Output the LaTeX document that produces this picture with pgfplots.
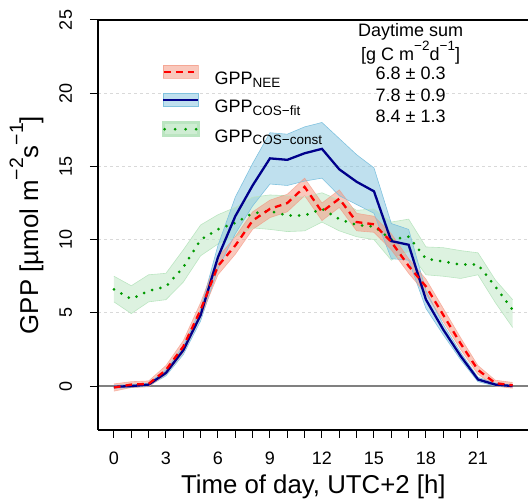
\documentclass[border=0pt]{standalone}
\usepackage{fontspec}
\setmainfont{Liberation Sans}
\usepackage{pgfplots}
\usepackage{pgfplotstable}
\pgfplotsset{compat=1.18}
\usepgfplotslibrary{fillbetween}

\definecolor{neeline}{HTML}{FF0000}
\definecolor{neefill}{HTML}{F3917A}
\definecolor{fitline}{HTML}{00008B}
\definecolor{fitfill}{HTML}{80C2DE}
\definecolor{constline}{HTML}{009A00}
\definecolor{constfill}{HTML}{BBE5C1}

% subscripts / superscripts in the R plotmath manner
\newcommand{\sub}[1]{\raisebox{-2.5pt}{\fontsize{13.5}{14}\selectfont #1}}
\newcommand{\supL}[1]{\raisebox{15pt}{\fontsize{19.4}{20}\selectfont #1}}
\newcommand{\supS}[1]{\raisebox{10pt}{\fontsize{13.5}{14}\selectfont #1}}

% hour, mean, lower, upper
\pgfplotstableread{
h m lo hi
0 -0.10 -0.35 0.15
1 0.10 -0.10 0.30
2 0.15 -0.05 0.35
3 1.10 0.80 1.40
4 2.70 2.30 3.10
5 5.20 4.70 5.70
6 8.20 7.60 8.80
7 9.60 9.00 10.20
8 11.30 10.70 11.90
9 12.10 11.50 12.70
10 12.50 11.90 13.10
11 13.60 13.00 14.20
12 11.90 11.30 12.50
13 12.80 12.20 13.40
14 11.20 10.60 11.80
15 11.05 10.50 11.60
16 9.85 9.30 10.40
17 8.20 7.70 8.70
18 6.80 6.30 7.30
19 4.85 4.40 5.30
20 2.90 2.50 3.30
21 1.10 0.80 1.40
22 0.20 0.00 0.40
23 0.05 -0.15 0.25
}\nee

\pgfplotstableread{
h m lo hi
0 -0.05 -0.15 0.05
1 0.00 -0.10 0.10
2 0.10 0.00 0.20
3 0.90 0.70 1.10
4 2.45 2.15 2.75
5 4.85 4.45 5.25
6 8.80 8.00 9.60
7 11.60 10.40 12.90
8 13.70 12.30 15.20
9 15.55 13.80 17.30
10 15.45 13.70 17.20
11 15.90 14.00 17.70
12 16.20 14.20 18.00
13 14.80 13.00 16.90
14 13.95 12.40 15.80
15 13.30 11.80 14.90
16 9.90 8.70 11.10
17 9.65 8.60 10.70
18 5.90 5.30 6.50
19 3.85 3.50 4.20
20 2.05 1.80 2.30
21 0.45 0.30 0.60
22 0.10 0.00 0.20
23 0.00 -0.05 0.05
}\fit

\pgfplotstableread{
h m lo hi
0 6.60 5.75 7.50
1 5.95 4.95 6.85
2 6.50 5.75 7.60
3 6.80 5.90 7.70
4 8.10 7.10 9.30
5 10.00 8.90 11.00
6 10.70 9.70 11.70
7 11.15 10.20 12.20
8 11.80 10.80 12.90
9 11.95 10.70 13.05
10 11.65 10.55 13.00
11 11.65 10.60 12.90
12 12.10 11.20 13.20
13 11.40 10.60 12.70
14 11.00 10.20 12.00
15 10.90 10.00 12.10
16 10.00 8.60 11.20
17 10.20 9.20 11.40
18 8.70 7.60 9.50
19 8.50 7.50 9.45
20 8.30 7.35 9.25
21 8.30 7.60 9.10
22 6.80 5.70 7.25
23 5.20 4.00 5.90
}\const

\begin{document}
\begin{tikzpicture}
\begin{axis}[
  at={(98pt,70pt)}, anchor=south west,
  scale only axis, width=430.6pt, height=410pt,
  xmin=-0.92, xmax=23.92, ymin=-3, ymax=25,
  axis x line*=box, axis y line*=left,
  axis line style={-, line width=1.3pt},
  xtick={0,3,...,21}, minor x tick num=2,
  ytick={0,5,...,25},
  tick align=outside, xtick pos=bottom, ytick pos=left,
  major tick length=8pt, minor tick length=8pt,
  tick style={line width=1pt, black},
  ymajorgrids, grid style={gray!30, dash pattern=on 3pt off 3pt, line width=0.8pt},
  extra y ticks={0}, extra y tick labels={},
  extra y tick style={grid=major, major grid style={solid, gray, line width=1.2pt}, tick style={draw=none}},
  /pgf/number format/assume math mode=true,
  ticklabel style={font=\fontsize{18}{18}\selectfont},
  xticklabel style={anchor=base, yshift=-27pt},
  yticklabel style={rotate=90, anchor=base, yshift=18pt},
  xlabel={Time of day, UTC+2 [h]},
  xlabel style={at={(axis description cs:0.5,-0.1537)}, anchor=base, font=\fontsize{25.8}{26}\selectfont},
  ylabel={GPP [µmol m\supL{−2}s\supL{−1}]},
  ylabel style={at={(axis description cs:-0.139,0.5)}, anchor=base, font=\fontsize{25.8}{26}\selectfont},
  legend style={at={(axis description cs:0.148,0.890)}, anchor=north west, draw=none, fill=none,
    inner sep=0pt, outer sep=0pt, column sep=15pt, row sep=8.4pt,
    font=\fontsize{18}{18}\selectfont, nodes={inner sep=0pt, text height=13.3pt, text depth=0pt}},
  legend cell align=left, reverse legend,
]
% bands
\addplot[constfill, line width=0.6pt, forget plot, name path=cU] table[x=h,y=hi]{\const};
\addplot[constfill, line width=0.6pt, forget plot, name path=cL] table[x=h,y=lo]{\const};
\addplot[constfill, fill opacity=0.5, forget plot] fill between[of=cU and cL];
\addplot[fitfill, line width=0.6pt, forget plot, name path=fU] table[x=h,y=hi]{\fit};
\addplot[fitfill, line width=0.6pt, forget plot, name path=fL] table[x=h,y=lo]{\fit};
\addplot[fitfill, fill opacity=0.5, forget plot] fill between[of=fU and fL];
\addplot[neefill, line width=0.6pt, forget plot, draw opacity=0.6, name path=nU] table[x=h,y=hi]{\nee};
\addplot[neefill, line width=0.6pt, forget plot, draw opacity=0.6, name path=nL] table[x=h,y=lo]{\nee};
\addplot[neefill, fill opacity=0.5, forget plot] fill between[of=nU and nL];
% lines
\addplot[constline, line width=3pt, line cap=round, dash pattern=on 0pt off 8.5pt,
  legend image code/.code={
    \fill[solid, constfill, fill opacity=0.7] (0pt,0pt) rectangle (35pt,12.7pt);
    \draw[constline, line width=3pt, line cap=round, dash pattern=on 0pt off 10.5pt] (1.5pt,6.35pt) -- (35pt,6.35pt);}]
  table[x=h,y=m]{\const};
\addplot[fitline, line width=2.3pt,
  legend image code/.code={
    \filldraw[solid, fill=fitfill, fill opacity=0.5, draw=fitfill, line width=0.8pt] (0pt,0pt) rectangle (35pt,12.7pt);
    \draw[solid, fitline, line width=2.3pt] (0pt,6.35pt) -- (35pt,6.35pt);}]
  table[x=h,y=m]{\fit};
\addplot[neeline, line width=2.3pt, dash pattern=on 6.7pt off 5pt,
  legend image code/.code={
    \filldraw[solid, fill=neefill, fill opacity=0.5, draw=neefill, draw opacity=0.6, line width=0.8pt] (0pt,0pt) rectangle (35pt,12.7pt);
    \draw[neeline, line width=2.3pt, dash pattern=on 6.7pt off 5pt] (1pt,6.35pt) -- (35pt,6.35pt);}]
  table[x=h,y=m]{\nee};
\legend{GPP\sub{COS−const}, GPP\sub{COS−fit}, GPP\sub{NEE}}
% daytime sums
\node[anchor=base, font=\fontsize{18}{18}\selectfont] at (axis description cs:0.726,0.9593) {Daytime sum};
\node[anchor=base, font=\fontsize{18}{18}\selectfont] at (axis description cs:0.726,0.9024) {[g C m\supS{−2}d\supS{−1}]};
\node[anchor=base, font=\fontsize{18}{18}\selectfont] at (axis description cs:0.726,0.8537) {6.8 ± 0.3};
\node[anchor=base, font=\fontsize{18}{18}\selectfont] at (axis description cs:0.726,0.8024) {7.8 ± 0.9};
\node[anchor=base, font=\fontsize{18}{18}\selectfont] at (axis description cs:0.726,0.7495) {8.4 ± 1.3};
\end{axis}
\pgfresetboundingbox
\path (0,0) rectangle (528pt,500pt);
\end{tikzpicture}
\end{document}
